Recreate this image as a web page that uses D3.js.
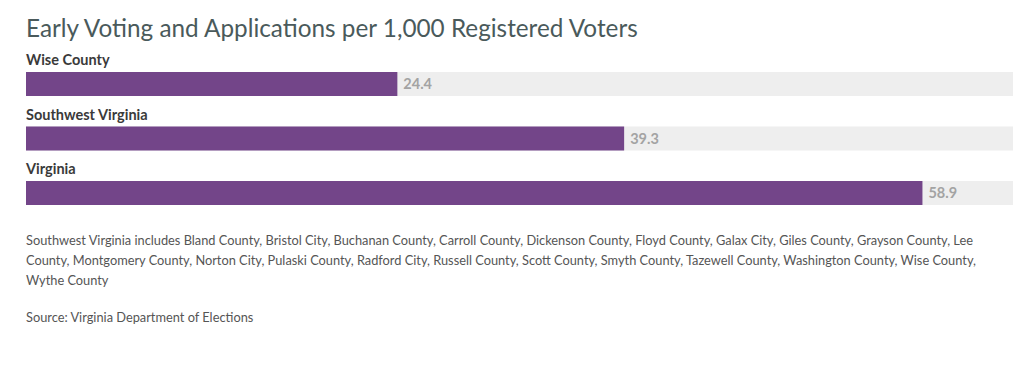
<!DOCTYPE html>
<html>
<head>
<meta charset="utf-8">
<script src="https://cdn.jsdelivr.net/npm/d3@7"></script>
<style>
  body { margin: 0; background: #fff; font-family: Lato, sans-serif; }
  #graphicContainer { width: 1024px; height: 377px; }
</style>
</head>
<body>
<div id="graphicContainer"></div>
<script>
const regions = ['Wise County', 'Southwest Virginia', 'Virginia'];
const values = [24.4, 39.3, 58.9];
const domainMax = [64.85];
const titleText = 'Early Voting and Applications per 1,000 Registered Voters';
const noteText = 'Southwest Virginia includes Bland County, Bristol City, Buchanan County, Carroll County, Dickenson County, Floyd County, Galax City, Giles County, Grayson County, Lee County, Montgomery County, Norton City, Pulaski County, Radford City, Russell County, Scott County, Smyth County, Tazewell County, Washington County, Wise County, Wythe County';
const sourceText = 'Source: Virginia Department of Elections';

const container = d3.select('#graphicContainer');
const Width = 1024, Height = 377;
const Margin = { t: 10, r: 11, b: 10, l: 26 };
const barColor = '#734589';
const trackColor = '#eeeeee';

const svg = container.append('svg')
  .attr('width', Width)
  .attr('height', Height);

svg.append('text')
  .attr('x', Margin.l)
  .attr('y', 37)
  .attr('font-size', 24.3)
  .attr('fill', '#4a5a5b')
  .text(titleText);

const x = d3.scaleLinear()
  .domain([0, domainMax[0]])
  .range([Margin.l, Width - Margin.r]);

// each row = label + bar, 54.5px apart
const y = d3.scalePoint()
  .domain(regions)
  .range([72, 181]);

const data = regions.map((r, i) => ({ region: r, value: values[i] }));
const rowG = svg.selectAll('.row')
  .data(data)
  .enter()
  .append('g')
  .attr('class', 'row');

rowG.append('text')
  .attr('x', Margin.l)
  .attr('y', d => y(d.region) - 7)
  .attr('font-size', 14.5)
  .attr('font-weight', 'bold')
  .attr('fill', '#3a3a3a')
  .text(d => d.region);

rowG.append('rect')
  .attr('x', x(0))
  .attr('y', d => y(d.region))
  .attr('width', x(domainMax[0]) - x(0))
  .attr('height', 24)
  .attr('fill', trackColor);

rowG.append('rect')
  .attr('x', x(0))
  .attr('y', d => y(d.region))
  .attr('width', d => x(d.value) - x(0))
  .attr('height', 24)
  .attr('fill', barColor);

rowG.append('text')
  .attr('x', d => x(d.value) + 6)
  .attr('y', d => y(d.region) + 17)
  .attr('font-size', 14.5)
  .attr('font-weight', 'bold')
  .attr('fill', '#a3a3a3')
  .text(d => d.value.toFixed(1));

// notes, wrapped by measuring
function wrapText(g, str, maxW, lineH) {
  const words = str.split(' ');
  let line = [];
  let tspan = g.append('tspan').attr('x', Margin.l).attr('dy', 0);
  words.forEach(w => {
    line.push(w);
    tspan.text(line.join(' '));
    if (tspan.node().getComputedTextLength() > maxW && line.length > 1) {
      line.pop();
      tspan.text(line.join(' '));
      line = [w];
      tspan = g.append('tspan').attr('x', Margin.l).attr('dy', lineH).text(w);
    }
  });
}

const note = svg.append('text')
  .attr('y', 245)
  .attr('font-size', 12.8)
  .attr('fill', '#555');
wrapText(note, noteText, 972, 20);

svg.append('text')
  .attr('x', Margin.l)
  .attr('y', 322)
  .attr('font-size', 12.8)
  .attr('fill', '#555')
  .text(sourceText);
</script>
</body>
</html>
